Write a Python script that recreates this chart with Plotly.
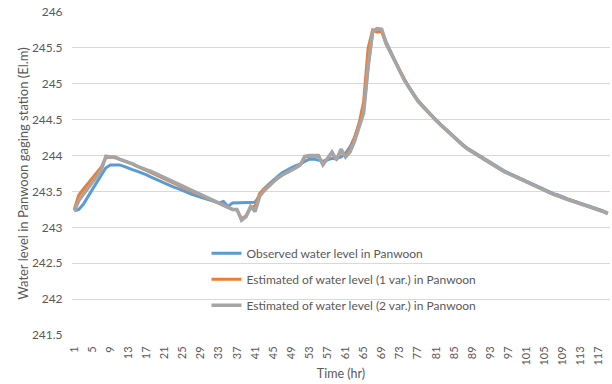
import plotly.graph_objects as go

time_hr = list(range(1, 120))

observed = [
    243.23, 243.25, 243.32, 243.43, 243.53, 243.63, 243.73, 243.83, 243.87, 243.87,
    243.87, 243.85, 243.82, 243.80, 243.78, 243.76, 243.73, 243.70, 243.67, 243.64,
    243.61, 243.58, 243.56, 243.54, 243.51, 243.48, 243.46, 243.44, 243.42, 243.40,
    243.38, 243.36, 243.34, 243.36, 243.29, 243.34, 243.34, 243.34, 243.34, 243.34,
    243.35, 243.44, 243.53, 243.60, 243.66, 243.71, 243.76, 243.80, 243.83, 243.86,
    243.88, 243.92, 243.95, 243.95, 243.93, 243.92, 243.94, 243.96, 243.96, 243.98,
    244.03, 244.12, 244.25, 244.43, 244.62, 245.25, 245.72, 245.77, 245.74, 245.58,
    245.44, 245.32, 245.18, 245.06, 244.96, 244.86, 244.77, 244.70, 244.63, 244.56,
    244.50, 244.44, 244.38, 244.32, 244.26, 244.20, 244.15, 244.10, 244.06, 244.02,
    243.98, 243.94, 243.90, 243.86, 243.83, 243.79, 243.76, 243.73, 243.70, 243.67,
    243.64, 243.61, 243.58, 243.55, 243.52, 243.50, 243.47, 243.45, 243.42, 243.40,
    243.38, 243.36, 243.34, 243.32, 243.30, 243.28, 243.25, 243.23, 243.20,
]

estimated_1var = [
    243.25, 243.45, 243.53, 243.61, 243.68, 243.76, 243.84, 243.97, 243.98, 243.97,
    243.95, 243.93, 243.90, 243.88, 243.85, 243.82, 243.80, 243.77, 243.74, 243.71,
    243.68, 243.65, 243.62, 243.59, 243.56, 243.53, 243.50, 243.47, 243.45, 243.42,
    243.39, 243.36, 243.33, 243.30, 243.28, 243.25, 243.24, 243.12, 243.16, 243.27,
    243.30, 243.47, 243.54, 243.59, 243.64, 243.69, 243.73, 243.76, 243.79, 243.83,
    243.87, 243.98, 243.99, 243.99, 243.99, 243.88, 243.95, 244.03, 243.95, 244.06,
    244.00, 244.08, 244.25, 244.45, 244.75, 245.50, 245.75, 245.72, 245.73, 245.55,
    245.43, 245.31, 245.17, 245.05, 244.95, 244.85, 244.76, 244.69, 244.62, 244.55,
    244.49, 244.43, 244.37, 244.31, 244.25, 244.19, 244.14, 244.09, 244.05, 244.01,
    243.97, 243.93, 243.89, 243.85, 243.82, 243.78, 243.75, 243.72, 243.69, 243.66,
    243.63, 243.60, 243.57, 243.54, 243.51, 243.49, 243.46, 243.44, 243.41, 243.39,
    243.37, 243.35, 243.33, 243.31, 243.29, 243.27, 243.24, 243.22, 243.19,
]

estimated_2var = [
    243.23, 243.37, 243.46, 243.54, 243.62, 243.71, 243.81, 243.99, 243.98, 243.98,
    243.95, 243.93, 243.91, 243.88, 243.85, 243.82, 243.80, 243.78, 243.75, 243.72,
    243.69, 243.66, 243.63, 243.60, 243.57, 243.54, 243.51, 243.48, 243.45, 243.42,
    243.39, 243.36, 243.33, 243.30, 243.27, 243.25, 243.25, 243.10, 243.15, 243.29,
    243.22, 243.43, 243.51, 243.57, 243.63, 243.69, 243.73, 243.76, 243.79, 243.83,
    243.87, 243.99, 244.00, 244.00, 244.00, 243.87, 243.96, 244.05, 243.94, 244.09,
    243.98, 244.05, 244.20, 244.38, 244.59, 245.24, 245.73, 245.77, 245.76, 245.56,
    245.43, 245.31, 245.17, 245.05, 244.95, 244.85, 244.76, 244.69, 244.62, 244.55,
    244.49, 244.43, 244.37, 244.31, 244.25, 244.19, 244.14, 244.09, 244.05, 244.01,
    243.97, 243.93, 243.89, 243.85, 243.82, 243.78, 243.75, 243.72, 243.69, 243.66,
    243.63, 243.60, 243.57, 243.54, 243.51, 243.49, 243.46, 243.44, 243.41, 243.39,
    243.37, 243.35, 243.33, 243.31, 243.29, 243.27, 243.24, 243.22, 243.19,
]

x_tick_vals = list(range(1, 120, 4))
y_tick_vals = [241.5, 242, 242.5, 243, 243.5, 244, 244.5, 245, 245.5, 246]
y_tick_text = ["241.5", "242", "242.5", "243", "243.5", "244", "244.5", "245", "245.5", "246"]

series_names = [
    "Observed water level in Panwoon",
    "Estimated of water level (1 var.) in Panwoon",
    "Estimated of water level (2 var.) in Panwoon",
]
series_colors = ["#5B9BD5", "#ED7D31", "#A5A5A5"]
series_widths = [3, 3, 3.5]
series_values = [observed, estimated_1var, estimated_2var]

FONT = "Lato"
TXT = "#595959"

fig = go.Figure()
for name, col, w, vals in zip(series_names, series_colors, series_widths, series_values):
    fig.add_trace(go.Scatter(
        x=time_hr, y=vals, mode="lines", name=name, legendgroup=name,
        line=dict(color=col, width=w),
    ))

fig.update_layout(
    width=612, height=384,
    margin=dict(l=72, r=2, t=12, b=49),
    paper_bgcolor="white", plot_bgcolor="white",
    font=dict(family=FONT, color=TXT, size=12),
    showlegend=True,
    legend=dict(
        x=0.25, y=0.298, xanchor="left", yanchor="top",
        bgcolor="rgba(0,0,0,0)", font=dict(size=12, color=TXT, family=FONT),
        itemwidth=30, tracegroupgap=7,
    ),
)
fig.update_xaxes(
    range=[0.5, 119.5], tickmode="array", tickvals=x_tick_vals,
    ticktext=[str(v) for v in x_tick_vals], tickangle=-90,
    tickfont=dict(size=11, color=TXT), showgrid=False, zeroline=False,
    showline=False, ticks="outside", ticklen=6, tickcolor="rgba(0,0,0,0)",
    title=dict(text="Time (hr)", font=dict(size=12.5, color=TXT), standoff=4),
)
fig.update_yaxes(
    range=[241.5, 246], tickmode="array", tickvals=y_tick_vals, ticktext=y_tick_text,
    tickfont=dict(size=12, color=TXT), showgrid=True, gridcolor="#D9D9D9", gridwidth=1,
    zeroline=False, showline=False, ticks="outside", ticklen=6, tickcolor="rgba(0,0,0,0)",
    title=dict(text="Water level in Panwoon gaging station (El.m)", font=dict(size=13, color=TXT), standoff=0),
)

fig.write_html("out.html")
